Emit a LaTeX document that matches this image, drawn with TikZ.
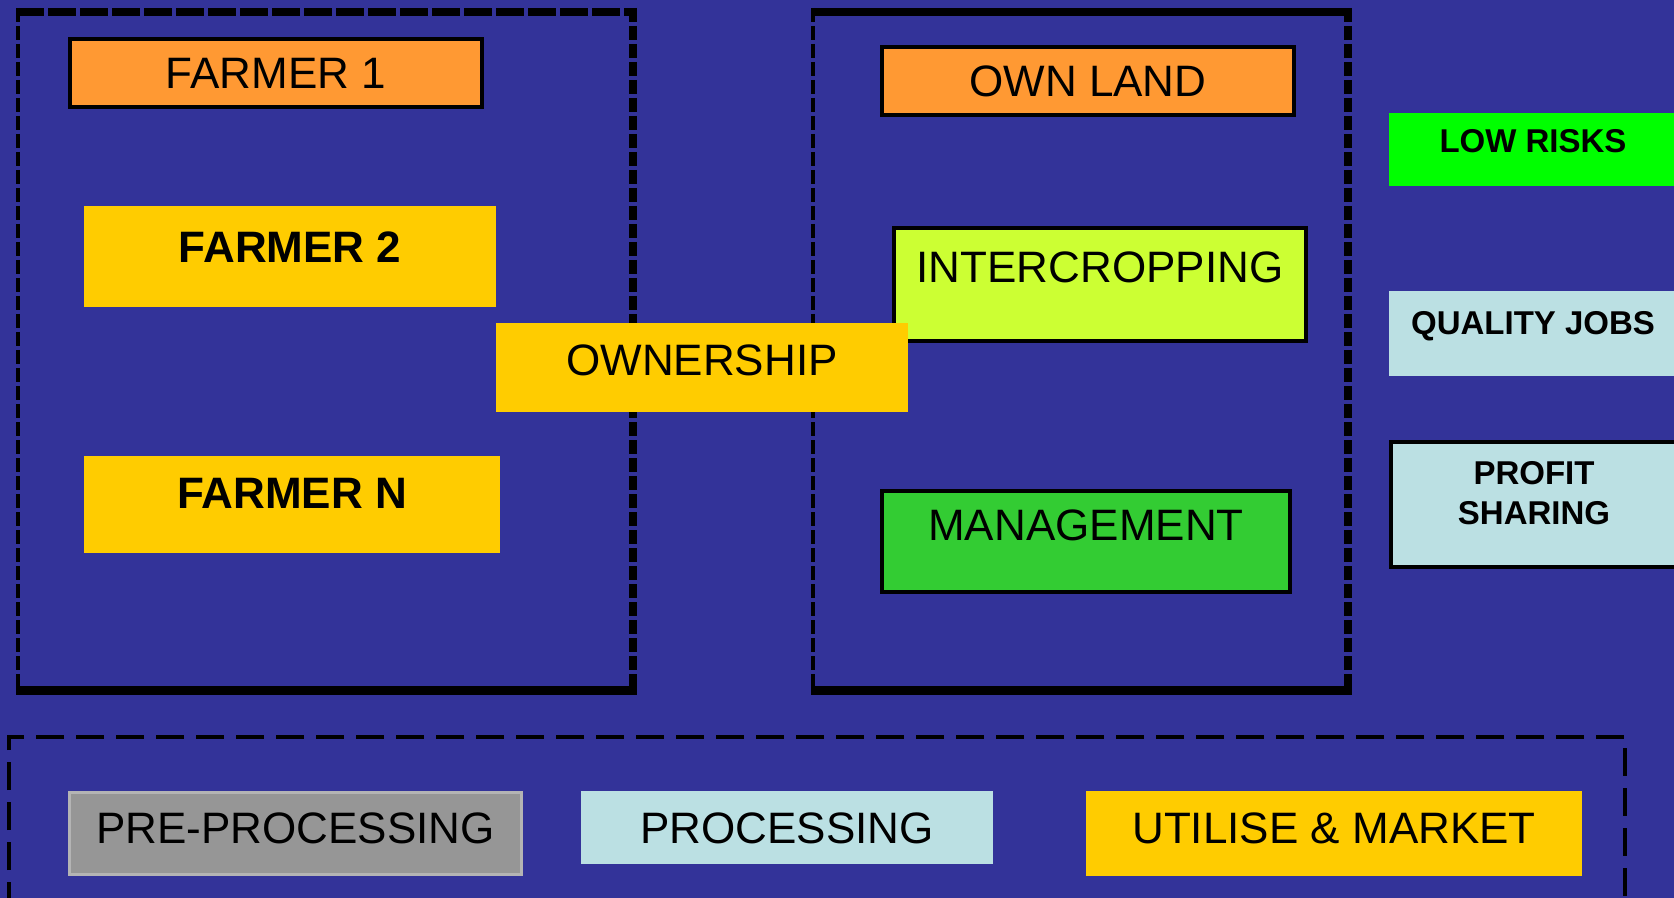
\documentclass[tikz,border=0pt]{standalone}
\usepackage{fontspec}
\setmainfont{Liberation Sans}
\definecolor{bgblue}{HTML}{333399}
\definecolor{orng}{HTML}{FF9933}
\definecolor{gold}{HTML}{FFCC00}
\definecolor{lime}{HTML}{CCFF33}
\definecolor{midgreen}{HTML}{33CC33}
\definecolor{brightgreen}{HTML}{00FF00}
\definecolor{paleblue}{HTML}{BBE0E3}
\definecolor{midgray}{HTML}{969696}
\definecolor{lightgray}{HTML}{B4B4B4}
\tikzset{
  box/.style={rectangle, inner sep=0pt, outer sep=0pt},
  bordered/.style={box, draw=black, line width=1.75pt},
  bigtxt/.style={inner sep=0pt, text height=15.75pt, text depth=0pt, font=\fontsize{22pt}{26pt}\selectfont},
  bigbold/.style={bigtxt, font=\fontsize{22pt}{26pt}\selectfont\bfseries},
  smalltxt/.style={inner sep=0pt, text height=11.8pt, text depth=0pt, font=\fontsize{16.5pt}{20pt}\selectfont\bfseries},
  thickdash/.style={line width=4pt, dash pattern=on 14pt off 2pt},
  sidedash/.style={line width=2pt, dash pattern=on 7pt off 2pt},
  rightdash/.style={line width=4pt, dash pattern=on 7pt off 2pt},
  solidedge/.style={line width=4.5pt},
  bottomdash/.style={line width=2pt, dash pattern=on 14pt off 6pt},
}
\begin{document}
\begin{tikzpicture}[x=0.5pt, y=-0.5pt]
\clip (0,0) rectangle (1674,898);
\fill[bgblue] (0,0) rectangle (1674,898);

% left frame
\draw[thickdash] (16,12) -- (637,12);
\draw[sidedash] (18,8) -- (18,695);
\draw[rightdash] (633,8) -- (633,690);
\draw[solidedge] (16,690.5) -- (637,690.5);

% right frame
\draw[line width=4pt] (811,12) -- (1352,12);
\draw[sidedash] (813,8) -- (813,695);
\draw[rightdash] (1348,8) -- (1348,690);
\draw[solidedge] (811,690.5) -- (1352,690.5);

% bottom frame
\draw[bottomdash] (9,910) -- (9,737) -- (1625,737) -- (1625,910);

% left column
\node[bordered, fill=orng, minimum width=206pt, minimum height=34pt] (f1) at (276,73) {};
\node[bigtxt] (f1t) at (f1.center |- 0,73) {FARMER 1};
\node[box, fill=gold, minimum width=206pt, minimum height=50.5pt] (f2) at (290,256.5) {};
\node[bigbold] (f2t) at (f2.center |- 0,246.5) {FARMER 2};
\node[box, fill=gold, minimum width=208pt, minimum height=48.5pt] (fn) at (292,504.5) {};
\node[bigbold] (fnt) at (fn.center |- 0,493) {FARMER N};

% right column
\node[bordered, fill=orng, minimum width=206pt, minimum height=34pt] (ol) at (1088,81) {};
\node[bigtxt] (olt) at (ol.center |- 0,81) {OWN LAND};
\node[bordered, fill=lime, minimum width=206pt, minimum height=56.5pt] (ic) at (1100,284.5) {};
\node[bigtxt] (ict) at (ic.center |- 0,266.5) {INTERCROPPING};
\node[bordered, fill=midgreen, minimum width=204pt, minimum height=50.5pt] (mg) at (1086,541.5) {};
\node[bigtxt] (mgt) at (mg.center |- 0,525) {MANAGEMENT};

% ownership (drawn on top of frames and intercropping)
\node[box, fill=gold, minimum width=206pt, minimum height=44.5pt] (own) at (702,367.5) {};
\node[bigtxt] (ownt) at (own.center |- 0,359.5) {OWNERSHIP};

% benefits
\node[box, fill=brightgreen, minimum width=144pt, minimum height=36.5pt] (lr) at (1533,149.5) {};
\node[smalltxt] (lrt) at (lr.center |- 0,141) {LOW RISKS};
\node[box, fill=paleblue, minimum width=144pt, minimum height=42.5pt] (qj) at (1533,333.5) {};
\node[smalltxt] (qjt) at (qj.center |- 0,323) {QUALITY JOBS};
\node[box, draw=black, line width=2pt, fill=paleblue, minimum width=143pt, minimum height=62.5pt] (ps) at (1534,504.5) {};
\node[smalltxt] (pst1) at (ps.center |- 0,472.5) {PROFIT};
\node[smalltxt] (pst2) at (ps.center |- 0,513) {SHARING};

% bottom row
\node[box, draw=lightgray, line width=1.5pt, fill=midgray, minimum width=226pt, minimum height=41pt] (pp) at (295.5,833.5) {};
\node[bigtxt] (ppt) at (pp.center |- 0,828) {PRE-PROCESSING};
\node[box, fill=paleblue, minimum width=206pt, minimum height=36.5pt] (pr) at (787,827.5) {};
\node[bigtxt] (prt) at (pr.center |- 0,828) {PROCESSING};
\node[box, fill=gold, minimum width=248pt, minimum height=42.5pt] (um) at (1334,833.5) {};
\node[bigtxt] (umt) at (um.center |- 0,828) {UTILISE \& MARKET};
\end{tikzpicture}
\end{document}
